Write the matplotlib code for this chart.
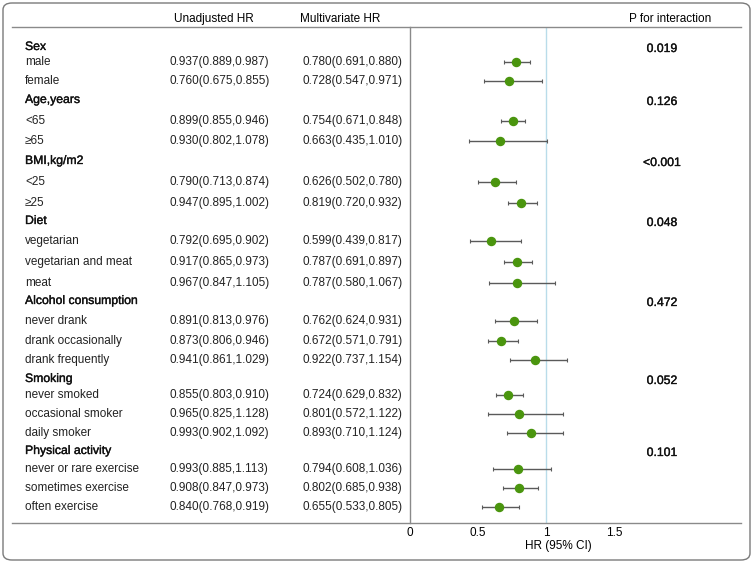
import matplotlib
matplotlib.use("Agg")
import matplotlib.pyplot as plt
import matplotlib.transforms as mtransforms
import matplotlib.patheffects as pe
from matplotlib.patches import FancyBboxPatch
from matplotlib.lines import Line2D
import numpy as np

plt.rcParams['font.family'] = ['Liberation Sans', 'DejaVu Sans']

# ---------------- data ----------------
groups = ["Sex", "Age,years", "BMI,kg/m2", "Diet", "Alcohol consumption",
          "Smoking", "Physical activity"]
p_interaction = ["0.019", "0.126", "<0.001", "0.048", "0.472", "0.052", "0.101"]
subgroups = [
    ["male", "female"],
    ["<65", "\u226565"],
    ["<25", "\u226525"],
    ["vegetarian", "vegetarian and meat", "meat"],
    ["never drank", "drank occasionally", "drank frequently"],
    ["never smoked", "occasional smoker", "daily smoker"],
    ["never or rare exercise", "sometimes exercise", "often exercise"],
]
unadj_hr = [[0.937, 0.760], [0.899, 0.930], [0.790, 0.947],
            [0.792, 0.917, 0.967], [0.891, 0.873, 0.941],
            [0.855, 0.965, 0.993], [0.993, 0.908, 0.840]]
unadj_lo = [[0.889, 0.675], [0.855, 0.802], [0.713, 0.895],
            [0.695, 0.865, 0.847], [0.813, 0.806, 0.861],
            [0.803, 0.825, 0.902], [0.885, 0.847, 0.768]]
unadj_hi = [[0.987, 0.855], [0.946, 1.078], [0.874, 1.002],
            [0.902, 0.973, 1.105], [0.976, 0.946, 1.029],
            [0.910, 1.128, 1.092], [1.113, 0.973, 0.919]]
multi_hr = [[0.780, 0.728], [0.754, 0.663], [0.626, 0.819],
            [0.599, 0.787, 0.787], [0.762, 0.672, 0.922],
            [0.724, 0.801, 0.893], [0.794, 0.802, 0.655]]
multi_lo = [[0.691, 0.547], [0.671, 0.435], [0.502, 0.720],
            [0.439, 0.691, 0.580], [0.624, 0.571, 0.737],
            [0.629, 0.572, 0.710], [0.608, 0.685, 0.533]]
multi_hi = [[0.880, 0.971], [0.848, 1.010], [0.780, 0.932],
            [0.817, 0.897, 1.067], [0.931, 0.791, 1.154],
            [0.832, 1.122, 1.124], [1.036, 0.938, 0.805]]
xticks = [0, 0.5, 1, 1.5]
tick_labels = ["0", "0.5", "1", "1.5"]

# ---------------- layout (pixel rows) ----------------
group_y = [47, 100, 161, 221, 301, 379, 451]
sub_y = [[62, 81], [121, 141], [182, 203], [241, 262, 283],
         [321, 341, 360], [395, 414, 433], [469, 488, 507]]

W, H = 753, 563
fig = plt.figure(figsize=(W / 100, H / 100), dpi=100)

x0_px, x1_px = 410, 741
top_px, bot_px = 27, 523
px_per_unit = 136.0
ax = fig.add_axes([x0_px / W, 1 - bot_px / H, (x1_px - x0_px) / W, (bot_px - top_px) / H])
ax.set_xlim(0, (x1_px - x0_px) / px_per_unit)
ax.set_ylim(bot_px, top_px)
ax.patch.set_alpha(0)
for s in ["top", "right"]:
    ax.spines[s].set_visible(False)
ax.spines["left"].set_color("#8a8a8a")
ax.spines["left"].set_linewidth(1.0)
ax.spines["bottom"].set_visible(False)
ax.set_yticks([])
ax.set_xticks(xticks)
ax.set_xticklabels(tick_labels, fontsize=8.5)
ax.tick_params(axis="x", length=0, pad=3)

# reference line at HR=1
ax.axvline(1, color="#b9dcea", lw=1.0, zorder=1)

green = "#4a950e"
for gi in range(len(groups)):
    hr = np.array(multi_hr[gi])
    lo = np.array(multi_lo[gi])
    hi = np.array(multi_hi[gi])
    ax.errorbar(hr, sub_y[gi], xerr=[hr - lo, hi - hr], fmt="o", color=green,
                ecolor="#5a5a5a", elinewidth=1.0, capsize=1.5, capthick=0.8,
                markersize=5.8, zorder=3)

# blended transform: x in figure pixels, y in row units
trans = mtransforms.blended_transform_factory(
    mtransforms.Affine2D().scale(1 / W, 1) + fig.transFigure, ax.transData)

fs = 8.5
semi = [pe.withStroke(linewidth=0.25, foreground="#111111")]
# header
hdr_y = 19
fig.text(214 / W, 1 - hdr_y / H, "Unadjusted HR", ha="center", va="center", fontsize=fs)
fig.text(340 / W, 1 - hdr_y / H, "Multivariate HR", ha="center", va="center", fontsize=fs)
fig.text(670 / W, 1 - hdr_y / H, "P for interaction", ha="center", va="center", fontsize=fs)

# horizontal rules
fig.add_artist(Line2D([12, 741], [top_px, top_px], transform=trans, color="#8a8a8a", lw=1.0))
fig.add_artist(Line2D([12, 741], [bot_px, bot_px], transform=trans, color="#8a8a8a", lw=1.0))

for gi, g in enumerate(groups):
    fig.text(25, group_y[gi], g, transform=trans, ha="left", va="center",
             fontsize=fs + 0.3, color="#111111", path_effects=semi)
    fig.text(662, group_y[gi] + 2, p_interaction[gi], transform=trans, ha="center",
             va="center", fontsize=fs + 0.3, color="#111111", path_effects=semi)
    for si, name in enumerate(subgroups[gi]):
        y = sub_y[gi][si]
        fig.text(25, y, name, transform=trans, ha="left", va="center", fontsize=fs,
                 color="#222222")
        fig.text(170, y, f"{unadj_hr[gi][si]:.3f}({unadj_lo[gi][si]:.3f},{unadj_hi[gi][si]:.3f})",
                 transform=trans, ha="left", va="center", fontsize=fs, color="#222222")
        fig.text(303, y, f"{multi_hr[gi][si]:.3f}({multi_lo[gi][si]:.3f},{multi_hi[gi][si]:.3f})",
                 transform=trans, ha="left", va="center", fontsize=fs, color="#222222")

fig.text(558 / W, 1 - 546 / H, "HR (95% CI)", ha="center", va="center", fontsize=fs)

# rounded border
border = FancyBboxPatch((3 / W, 3 / H), (W - 6) / W, (H - 6) / H,
                        boxstyle="round,pad=0,rounding_size=0.012",
                        transform=fig.transFigure, fill=False,
                        edgecolor="#7a7a7a", lw=1.0)
fig.add_artist(border)

fig.savefig("out.png", dpi=100)
